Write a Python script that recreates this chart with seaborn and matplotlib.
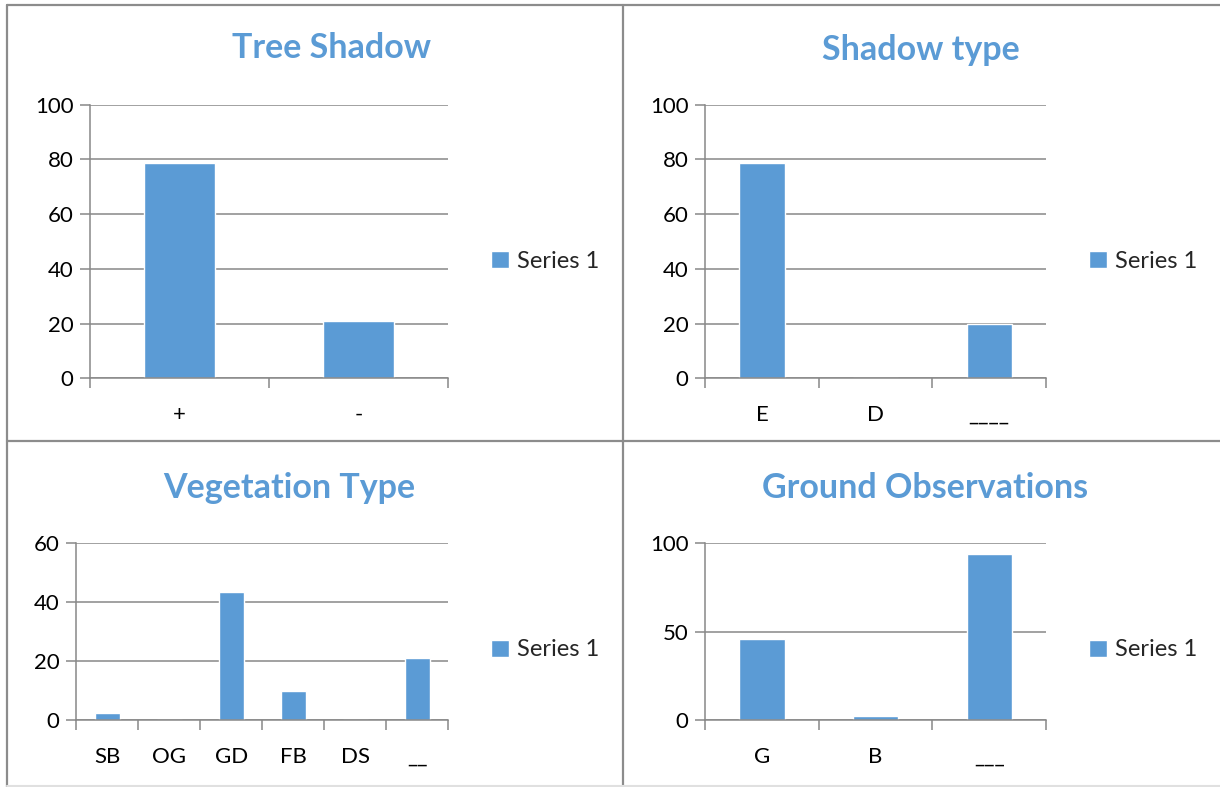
import numpy as np
import pandas as pd
import matplotlib.pyplot as plt
import seaborn as sns
from matplotlib.lines import Line2D

# data
tree_cats = ['+', '-']
tree_vals = [78.8, 21.0]
shadow_cats = ['E', 'D', '____']
shadow_vals = [78.8, 0.0, 20.0]
veg_cats = ['SB', 'OG', 'GD', 'FB', 'DS', '__']
veg_vals = [2.4, 0.0, 43.3, 10.0, 0.0, 21.0]
ground_cats = ['G', 'B', '___']
ground_vals = [45.9, 2.3, 93.5]

BLUE = '#5B9BD5'
GRID = '#888888'

sns.set_theme(style='white')
plt.rcParams['font.family'] = ['Lato', 'DejaVu Sans']

fig = plt.figure(figsize=(12.2, 7.87), dpi=100)

W, H = 1220.0, 787.0

def px_axes(x0, x1, ytop, ybot):
    return fig.add_axes([x0 / W, 1 - ybot / H, (x1 - x0) / W, (ybot - ytop) / H])

def draw_panel(ax, cats, vals, ymax, ystep, title, title_xy, legend_xy):
    df = pd.DataFrame({'cat': cats, 'val': vals, 'series': 'Series 1'})
    sns.barplot(data=df, x='cat', y='val', hue='series', palette=[BLUE],
                width=0.4, ax=ax, legend=True, saturation=1)
    n = len(cats)
    ax.set_xlim(-0.5, n - 0.5)
    ax.set_ylim(0, ymax)
    ax.set_yticks(np.arange(0, ymax + 1, ystep))
    ax.yaxis.grid(True, color=GRID, lw=1.1)
    ax.set_axisbelow(True)
    ax.set_xlabel('')
    ax.set_ylabel('')
    # category boundaries as major ticks, names on minor ticks
    ax.set_xticks(np.arange(-0.5, n, 1.0))
    ax.set_xticklabels([])
    ax.set_xticks(np.arange(n), minor=True)
    ax.set_xticklabels(cats, minor=True)
    ax.tick_params(axis='x', which='major', length=7, width=1.1, color=GRID, direction='out', bottom=True)
    ax.tick_params(axis='x', which='minor', length=0, pad=19, labelsize=16, labelcolor='black')
    ax.tick_params(axis='y', length=7, width=1.1, color=GRID, direction='out', left=True,
                   labelsize=16, labelcolor='black', pad=5)
    for s in ['top', 'right']:
        ax.spines[s].set_visible(False)
    for s in ['left', 'bottom']:
        ax.spines[s].set_color(GRID)
        ax.spines[s].set_linewidth(1.1)
    fig.text(title_xy[0] / W, 1 - title_xy[1] / H, title, ha='center', va='center',
             fontsize=24.5, fontweight='bold', color=BLUE)
    ax.legend(loc='center left', bbox_to_anchor=(legend_xy[0] / W, 1 - legend_xy[1] / H),
              bbox_transform=fig.transFigure, frameon=False, fontsize=17,
              handlelength=0.75, handleheight=0.75, handletextpad=0.35,
              borderpad=0, borderaxespad=0)

ax1 = px_axes(90, 448, 104.7, 378.3)
draw_panel(ax1, tree_cats, tree_vals, 100, 20, 'Tree Shadow', (331, 48), (491, 261))

ax2 = px_axes(705.3, 1046, 104.7, 378.3)
draw_panel(ax2, shadow_cats, shadow_vals, 100, 20, 'Shadow type', (921, 50), (1089, 261))

ax3 = px_axes(76.3, 448.3, 542.7, 720.3)
draw_panel(ax3, veg_cats, veg_vals, 60, 20, 'Vegetation Type', (289, 488), (491, 650))

ax4 = px_axes(705.3, 1046, 542.7, 720.3)
draw_panel(ax4, ground_cats, ground_vals, 100, 50, 'Ground Observations', (925, 488), (1089, 650))

# panel borders
border = dict(color='#8c8c8c', lw=1.6, transform=fig.transFigure)
fig.add_artist(Line2D([7 / W, 1], [1 - 5 / H, 1 - 5 / H], **border))
fig.add_artist(Line2D([7 / W, 7 / W], [1 - 5 / H, 0], **border))
fig.add_artist(Line2D([623 / W, 623 / W], [1 - 5 / H, 0], **border))
fig.add_artist(Line2D([7 / W, 1], [1 - 441 / H, 1 - 441 / H], **border))
fig.add_artist(Line2D([7 / W, 1], [1 - 786 / H, 1 - 786 / H], color='#e0e0e0', lw=1.5,
                      transform=fig.transFigure))

fig.savefig('out.png', dpi=100)
